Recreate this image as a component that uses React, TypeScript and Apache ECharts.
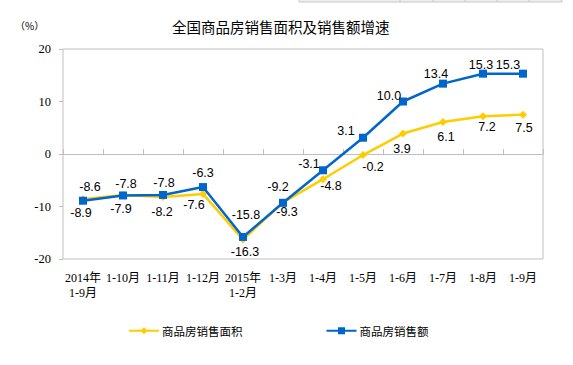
import React, { useEffect, useRef } from "react";
import * as echarts from "echarts";

const categories = ["2014年\n1-9月", "1-10月", "1-11月", "1-12月", "2015年\n1-2月", "1-3月", "1-4月", "1-5月", "1-6月", "1-7月", "1-8月", "1-9月"];
const areaName = "商品房销售面积";
const salesName = "商品房销售额";
const areaValues = [-8.6, -7.8, -8.2, -7.6, -16.3, -9.2, -4.8, -0.2, 3.9, 6.1, 7.2, 7.5];
const salesValues = [-8.9, -7.9, -7.8, -6.3, -15.8, -9.3, -3.1, 3.1, 10.0, 13.4, 15.3, 15.3];
const areaLabelOffsets = [[7, -12], [3, -11], [-1, 15], [-9, 11], [2, 12], [-5, -15], [8, 7], [10, 12], [-1, 15], [3, 15], [4, 11], [1, 13]];
const salesLabelOffsets = [[-2, 12], [-2, 14], [1, -12], [0, -14], [3, -22], [4, 9], [-14, -6], [-17, -7], [-14, -6], [-7, -10], [-2, -9], [-15, -9]];
const yTicks = { min: -20, max: 20, interval: 10 };

const LABEL_FONT = "'Liberation Sans', Arial, sans-serif";
const SERIF = "'Liberation Serif', 'Noto Sans CJK SC', serif";
const CJK = "'Noto Sans CJK SC', sans-serif";

function withLabels(values: number[], offsets: number[][]) {
  return values.map((v, i) => ({
    value: v,
    label: { position: "inside", offset: offsets[i] },
  }));
}

export default function App() {
  const ref = useRef<HTMLDivElement>(null);
  useEffect(() => {
    if (!ref.current) return;
    const chart = echarts.init(ref.current, undefined, { renderer: "svg" });
    const stubLines = [400, 433, 465, 497, 529].map((x) => ({
      type: "line",
      shape: { x1: x, y1: 0, x2: x, y2: 2 },
      style: { stroke: "#c8c8c8", lineWidth: 1 },
    }));
    chart.setOption({
      animation: false,
      backgroundColor: "#ffffff",
      title: {
        text: "全国商品房销售面积及销售额增速",
        left: 172,
        top: 19,
        padding: 0,
        textStyle: { fontSize: 14.5, fontWeight: "normal", color: "#000", fontFamily: CJK },
      },
      graphic: [
        {
          type: "text",
          left: 15,
          top: 20,
          style: { text: "（%）", fontSize: 10, fill: "#000", fontFamily: CJK },
        },
        {
          type: "rect",
          shape: { x: 299, y: -1, width: 263, height: 3 },
          style: { fill: "#eeeeee", stroke: "#c8c8c8", lineWidth: 1 },
        },
        ...stubLines,
      ],
      legend: {
        left: 129,
        top: 325,
        padding: 0,
        itemWidth: 30,
        itemHeight: 16,
        itemGap: 84,
        itemStyle: {},
        textStyle: { fontSize: 11.5, color: "#000", fontFamily: CJK, padding: [0, 0, 0, -2] },
        data: [
          { name: areaName, icon: "path://M0,7L30,7L30,9L0,9Z M15,4.5L18.5,8L15,11.5L11.5,8Z" },
          { name: salesName, icon: "path://M0,7L30,7L30,9L0,9Z M11.5,4.5L18.5,4.5L18.5,11.5L11.5,11.5Z" },
        ],
      },
      grid: {
        left: 63,
        top: 49,
        width: 480,
        height: 210,
        show: true,
        borderColor: "#BFBFBF",
        borderWidth: 1,
        containLabel: false,
      },
      xAxis: [
        {
          type: "category",
          data: categories,
          position: "bottom",
          axisLine: { show: false, onZero: false },
          axisTick: { show: false },
          axisLabel: {
            interval: 0,
            margin: 11,
            fontSize: 12,
            lineHeight: 15,
            color: "#000",
            fontFamily: SERIF,
          },
          splitLine: { show: false },
        },
        {
          type: "category",
          data: categories,
          position: "bottom",
          axisLine: { show: true, onZero: true, lineStyle: { color: "#BFBFBF", width: 1 } },
          axisTick: { show: true, inside: true, length: 5, interval: 0, lineStyle: { color: "#BFBFBF" } },
          axisLabel: { show: false },
          splitLine: { show: false },
        },
      ],
      yAxis: {
        type: "value",
        min: yTicks.min,
        max: yTicks.max,
        interval: yTicks.interval,
        axisLine: { show: false },
        axisTick: { show: true, length: 4, lineStyle: { color: "#BFBFBF" } },
        splitLine: { show: false },
        axisLabel: { margin: 12, fontSize: 12.5, color: "#000", fontFamily: SERIF },
      },
      series: [
        {
          name: areaName,
          type: "line",
          xAxisIndex: 0,
          data: withLabels(areaValues, areaLabelOffsets),
          symbol: "diamond",
          symbolSize: 8,
          itemStyle: { color: "#FFCC00" },
          lineStyle: { color: "#FFCC00", width: 2.5 },
          label: {
            show: true,
            fontSize: 12.5,
            color: "#000",
            fontFamily: LABEL_FONT,
            formatter: (p: any) => Number(p.value).toFixed(1),
          },
          z: 2,
        },
        {
          name: salesName,
          type: "line",
          xAxisIndex: 0,
          data: withLabels(salesValues, salesLabelOffsets),
          symbol: "rect",
          symbolSize: 8,
          itemStyle: { color: "#0066CC" },
          lineStyle: { color: "#0066CC", width: 2.5 },
          label: {
            show: true,
            fontSize: 12.5,
            color: "#000",
            fontFamily: LABEL_FONT,
            formatter: (p: any) => Number(p.value).toFixed(1),
          },
          z: 3,
        },
      ],
    });
    return () => chart.dispose();
  }, []);
  return (
    <div
      ref={ref}
      style={{ position: "fixed", left: 0, top: 0, width: 573, height: 365, background: "#fff" }}
    />
  );
}
